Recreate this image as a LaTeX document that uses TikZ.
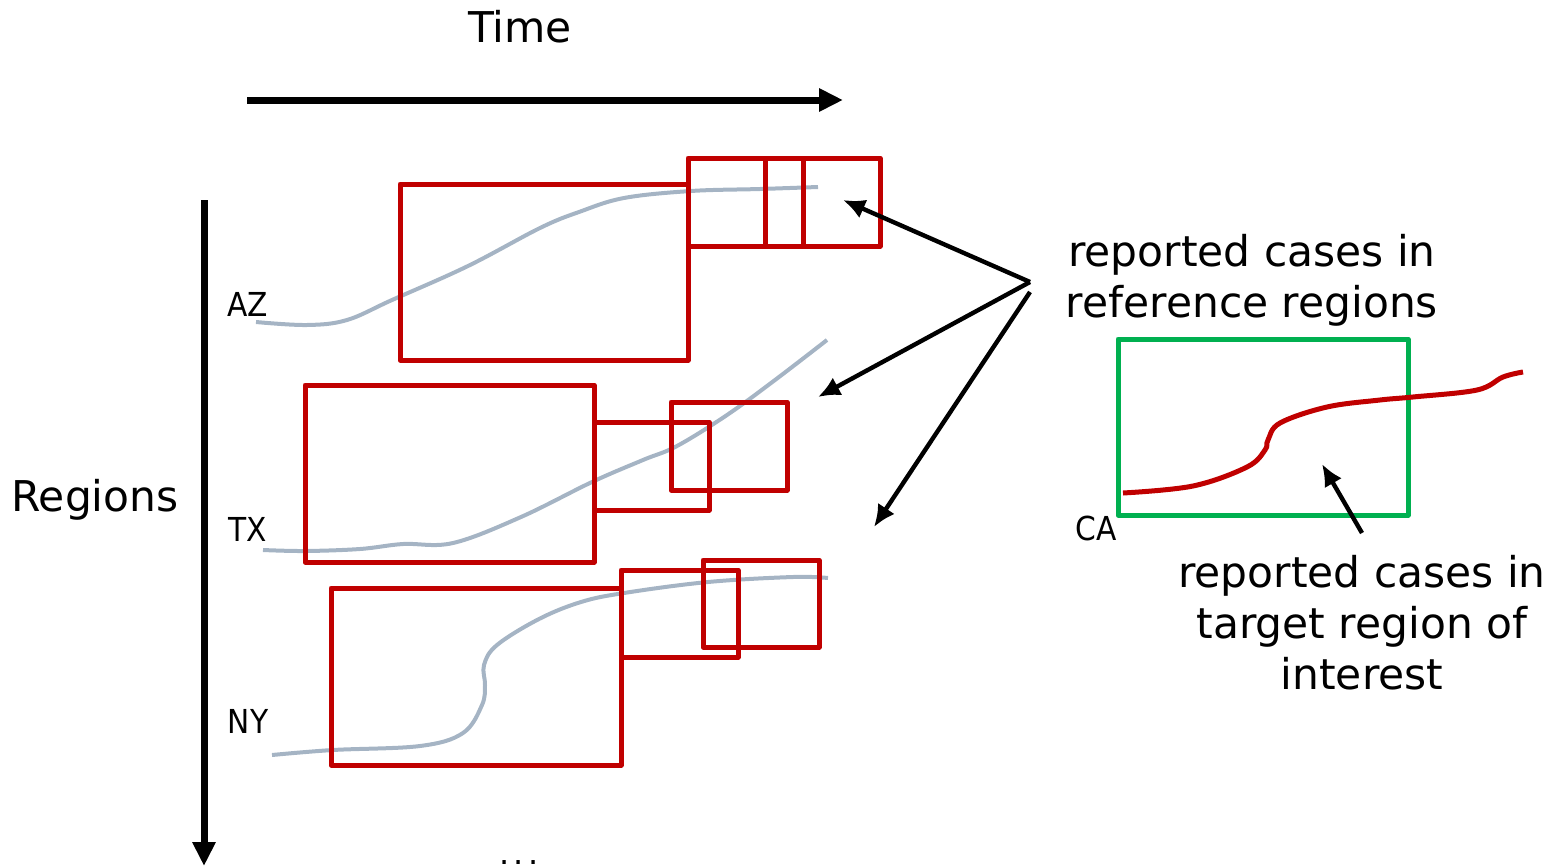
\documentclass[tikz,border=0pt]{standalone}
\usepackage{fontspec}
\setmainfont{DejaVu Sans}
\newfontfamily\condfont{DejaVu Sans Condensed}
\usetikzlibrary{arrows.meta}
\definecolor{boxred}{HTML}{C00000}
\definecolor{curvegray}{HTML}{A5B4C4}
\definecolor{boxgreen}{HTML}{00B050}
\tikzset{
  redbox/.style={draw=boxred,line width=2.5pt,line join=round},
  greenbox/.style={draw=boxgreen,line width=2.5pt,line join=round},
  graycurve/.style={draw=curvegray,line width=2pt},
  redcurve/.style={draw=boxred,line width=2.5pt},
  axisarrow/.style={draw=black,line width=3.5pt,-{Triangle[length=12pt,width=11pt]}},
  ptr/.style={draw=black,line width=2.2pt,-{Latex[length=11pt,width=10pt]}},
  bigtext/.style={font=\fontsize{21.2}{25.5}\selectfont,align=center,inner sep=0pt},
  smalltext/.style={font=\condfont\fontsize{16.5}{19}\selectfont,inner sep=0pt},
}
\begin{document}
\begin{tikzpicture}[x=0.5pt,y=-0.5pt]
\useasboundingbox (0,0) rectangle (1552,867);
% axes
\coordinate (tstart) at (247,100);
\coordinate (tend) at (843,100);
\draw[axisarrow] (tstart) -- (tend);
\coordinate (rstart) at (204,200);
\coordinate (rend) at (204,866);
\draw[axisarrow] (rstart) -- (rend);
\node[bigtext] (time) at (520,27) {Time};
\node[bigtext] (regions) at (95,500) {Regions};
\node[font=\fontsize{16}{18}\selectfont,inner sep=0pt,anchor=base,text depth=0pt] (dots) at (519,864) {.\kern2.2pt.\kern2.2pt.};
% AZ
\node[smalltext] (az) at (248,304) {AZ};
\draw[graycurve] plot[smooth,tension=0.6] coordinates {(256,322) (307,325) (347,320) (392,300) (468,266) (540,228) (579,212) (624,198) (691,191) (760,189) (818,187)};
\draw[redbox] (400,184) rectangle (688,360);
\draw[redbox] (688,158) rectangle (803,246);
\draw[redbox] (765,158) rectangle (880,246);
% TX
\node[smalltext] (tx) at (248,529) {TX};
\draw[graycurve] plot[smooth,tension=0.6] coordinates {(263,550) (305,551) (360,549) (403,544) (453,543) (521,517) (592,482) (643,460) (677,446) (727,415) (775,380) (827,340)};
\draw[redbox] (305,385) rectangle (594,562);
\draw[redbox] (594,422) rectangle (709,510);
\draw[redbox] (671,402) rectangle (787,490);
% NY
\node[smalltext] (ny) at (248,721) {NY};
\draw[graycurve] plot[smooth,tension=0.6] coordinates {(272,755) (333,750) (420,746) (463,733) (482,705) (485,685) (484,665) (497,645) (539,619) (581,602) (624,593) (708,582) (793,577) (828,578)};
\draw[redbox] (331,588) rectangle (621,765);
\draw[redbox] (621,570) rectangle (738,657);
\draw[redbox] (703,560) rectangle (819,647);
% reference label and arrows
\node[bigtext] (reflabel) at (1252,280) {reported cases in\\reference regions};
\coordinate (hub) at (1030,282);
\coordinate (hubb) at (1030,292);
\coordinate (pa) at (843,200);
\coordinate (pb) at (818,397);
\coordinate (pc) at (874,527);
\draw[ptr] (hub) -- (pa);
\draw[ptr] (hub) -- (pb);
\draw[ptr] (hubb) -- (pc);
% CA
\draw[greenbox] (1118,339) rectangle (1408,515);
\draw[redcurve] plot[smooth,tension=0.6] coordinates {(1123,493) (1193,486) (1247,467) (1265,450) (1268,440) (1280,423) (1327,407) (1380,400) (1413,397) (1477,390) (1503,377) (1523,372)};
\node[smalltext] (ca) at (1096,528) {CA};
\node[bigtext] (tgtlabel) at (1362,623) {reported cases in\\target region of\\interest};
\coordinate (tgtfrom) at (1362,533);
\coordinate (tgtto) at (1322,464);
\draw[ptr] (tgtfrom) -- (tgtto);
\end{tikzpicture}
\end{document}
